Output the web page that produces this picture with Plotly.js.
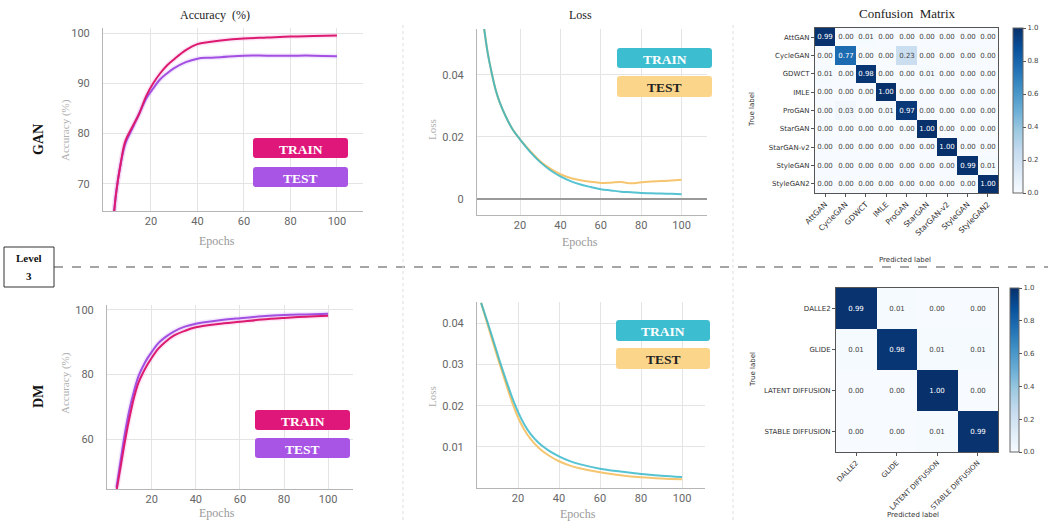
<!DOCTYPE html>
<html><head><meta charset="utf-8">
<script src="https://cdn.plot.ly/plotly-3.0.1.min.js"></script>
<style>html,body{margin:0;padding:0;background:#fff}#chart{width:1048px;height:523px}</style>
</head><body><div id="chart"></div>
<script>
// ---------------- DATA ----------------
const epochTicks = [20, 40, 60, 80, 100];

const ganAccEpochs = [3, 5, 7, 9, 12, 15, 18, 21, 24, 27, 30, 35, 40, 45, 50, 60, 70, 80, 90, 100];
const ganTrainAcc  = [58, 68, 74, 78.5, 81.3, 84, 87.5, 90, 92, 93.6, 94.8, 96.6, 97.8, 98.2, 98.5, 98.9, 99.1, 99.3, 99.4, 99.5];
const ganTestAcc   = [58, 68, 74, 78, 81, 84, 87, 89, 90.8, 92, 93, 94.2, 94.9, 95.1, 95.2, 95.5, 95.5, 95.5, 95.5, 95.4];
const ganAccTicks  = [70, 80, 90, 100];

const ganLossEpochs = [2, 4, 6, 8, 10, 13, 16, 20, 25, 30, 35, 40, 45, 50, 55, 60, 65, 70, 75, 80, 85, 90, 95, 100];
const ganTrainLoss  = [0.056, 0.047, 0.0405, 0.035, 0.031, 0.0265, 0.0228, 0.0192, 0.0152, 0.0119, 0.0093, 0.0073, 0.0058, 0.0047, 0.0039, 0.0032, 0.0028, 0.0024, 0.0022, 0.002, 0.0019, 0.0018, 0.0017, 0.0016];
const ganTestLoss   = [0.056, 0.047, 0.0405, 0.035, 0.031, 0.0265, 0.0228, 0.0192, 0.0155, 0.0122, 0.0098, 0.008, 0.0068, 0.0061, 0.0056, 0.0052, 0.0053, 0.0055, 0.0051, 0.0054, 0.0057, 0.0058, 0.006, 0.0062];
const ganLossTicks  = [0, 0.02, 0.04];
const ganLossTickText = ['0', '0.02', '0.04'];

const dmAccEpochs = [4, 6, 8, 10, 12, 14, 16, 18, 20, 23, 26, 30, 35, 40, 50, 60, 70, 80, 90, 100];
const dmTrainAcc  = [44, 52, 60, 67, 73, 77.5, 80.5, 83, 85.2, 88, 90, 92, 93.5, 94.6, 95.6, 96.3, 97, 97.5, 97.9, 98.2];
const dmTestAcc   = [45, 54, 62.5, 69.5, 75, 79.5, 82.5, 85, 87, 89.7, 91.5, 93.3, 94.8, 95.7, 96.7, 97.4, 98, 98.4, 98.6, 98.8];
const dmAccTicks  = [60, 80, 100];

const dmLossEpochs = [2, 5, 8, 11, 14, 17, 20, 23, 26, 30, 35, 40, 45, 50, 60, 70, 80, 90, 100];
const dmTrainLoss  = [0.045, 0.0405, 0.0358, 0.031, 0.0265, 0.0222, 0.0185, 0.0155, 0.0132, 0.011, 0.0091, 0.0077, 0.0066, 0.0058, 0.0047, 0.004, 0.0034, 0.003, 0.0027];
const dmTestLoss   = [0.045, 0.04, 0.035, 0.0302, 0.0255, 0.021, 0.0172, 0.0142, 0.012, 0.0098, 0.0079, 0.0065, 0.0055, 0.0048, 0.0038, 0.0031, 0.0026, 0.0023, 0.0021];
const dmLossTicks  = [0.01, 0.02, 0.03, 0.04];

const ganClasses = ['AttGAN', 'CycleGAN', 'GDWCT', 'IMLE', 'ProGAN', 'StarGAN', 'StarGAN-v2', 'StyleGAN', 'StyleGAN2'];
const ganMatrix = [
  [0.99, 0.00, 0.01, 0.00, 0.00, 0.00, 0.00, 0.00, 0.00],
  [0.00, 0.77, 0.00, 0.00, 0.23, 0.00, 0.00, 0.00, 0.00],
  [0.01, 0.00, 0.98, 0.00, 0.00, 0.01, 0.00, 0.00, 0.00],
  [0.00, 0.00, 0.00, 1.00, 0.00, 0.00, 0.00, 0.00, 0.00],
  [0.00, 0.03, 0.00, 0.01, 0.97, 0.00, 0.00, 0.00, 0.00],
  [0.00, 0.00, 0.00, 0.00, 0.00, 1.00, 0.00, 0.00, 0.00],
  [0.00, 0.00, 0.00, 0.00, 0.00, 0.00, 1.00, 0.00, 0.00],
  [0.00, 0.00, 0.00, 0.00, 0.00, 0.00, 0.00, 0.99, 0.01],
  [0.00, 0.00, 0.00, 0.00, 0.00, 0.00, 0.00, 0.00, 1.00]
];
const dmClasses = ['DALLE2', 'GLIDE', 'LATENT DIFFUSION', 'STABLE DIFFUSION'];
const dmMatrix = [
  [0.99, 0.01, 0.00, 0.00],
  [0.01, 0.98, 0.01, 0.01],
  [0.00, 0.00, 1.00, 0.00],
  [0.00, 0.00, 0.01, 0.99]
];
const cbTicks = [0, 0.2, 0.4, 0.6, 0.8, 1.0];

// ---------------- STYLE ----------------
const W = 1048, H = 523;
const px = x => x / W;
const py = y => 1 - y / H;
const SERIF = 'Liberation Serif, Times New Roman, serif';
const SANS = 'Roboto, Open Sans, sans-serif';
const MPL = 'DejaVu Sans, sans-serif';
const PINK = '#dc1a6f', PURPLE = '#a24fe2', TEAL = '#2cb4c8', ORANGE = '#f6c56f';
const BLUES = [[0, '#f7fbff'], [0.125, '#deebf7'], [0.25, '#c6dbef'], [0.375, '#9ecae1'], [0.5, '#6baed6'], [0.625, '#4292c6'], [0.75, '#2171b5'], [0.875, '#08519c'], [1, '#08306b']];

function lineAxis(dom, range, ticks, ticktext, isY) {
  const a = {
    domain: dom, range: range, tickmode: 'array', tickvals: ticks,
    showgrid: true, gridcolor: '#e4e4e4', gridwidth: 1,
    showline: true, linecolor: '#b5b5b5', linewidth: 1,
    zeroline: false, ticks: '', fixedrange: true,
    tickfont: {family: SANS, size: 11, color: '#666'},
    ticklabelstandoff: isY ? 10 : 0
  };
  if (ticktext) a.ticktext = ticktext;
  return a;
}

const traces = [];
function accTraces(xa, ya, ep, tr, te) {
  traces.push({x: ep, y: tr, xaxis: xa, yaxis: ya, mode: 'lines', line: {color: 'rgba(240,150,220,0.22)', width: 5, shape: 'spline'}, hoverinfo: 'skip', showlegend: false});
  traces.push({x: ep, y: te, xaxis: xa, yaxis: ya, mode: 'lines', line: {color: 'rgba(205,160,245,0.22)', width: 5, shape: 'spline'}, hoverinfo: 'skip', showlegend: false});
  traces.push({x: ep, y: te, xaxis: xa, yaxis: ya, mode: 'lines', name: 'TEST', line: {color: PURPLE, width: 2, shape: 'spline'}, showlegend: false});
  traces.push({x: ep, y: tr, xaxis: xa, yaxis: ya, mode: 'lines', name: 'TRAIN', line: {color: PINK, width: 2, shape: 'spline'}, showlegend: false});
}
function lossTraces(xa, ya, ep, tr, te) {
  traces.push({x: ep, y: te, xaxis: xa, yaxis: ya, mode: 'lines', name: 'TEST', line: {color: ORANGE, width: 2, shape: 'spline'}, showlegend: false});
  traces.push({x: ep, y: tr, xaxis: xa, yaxis: ya, mode: 'lines', name: 'TRAIN', line: {color: TEAL, width: 2, shape: 'spline'}, opacity: 0.8, showlegend: false});
}
accTraces('x', 'y', ganAccEpochs, ganTrainAcc, ganTestAcc);
lossTraces('x2', 'y2', ganLossEpochs, ganTrainLoss, ganTestLoss);
accTraces('x4', 'y4', dmAccEpochs, dmTrainAcc, dmTestAcc);
lossTraces('x5', 'y5', dmLossEpochs, dmTrainLoss, dmTestLoss);

function cmTrace(xa, ya, classes, z, cb) {
  traces.push({
    type: 'heatmap', x: classes, y: classes, z: z, xaxis: xa, yaxis: ya,
    colorscale: BLUES, zmin: 0, zmax: 1, xgap: 0, ygap: 0,
    texttemplate: '%{z:.2f}', textfont: {family: MPL, size: 7},
    hoverinfo: 'skip',
    colorbar: Object.assign({
      thicknessmode: 'pixels', lenmode: 'pixels', xanchor: 'left', yanchor: 'top',
      outlinewidth: 1, outlinecolor: '#666', ticks: 'outside', ticklen: 3, tickcolor: '#555',
      tickmode: 'array', tickvals: cbTicks, ticktext: cbTicks.map(v => v.toFixed(1)),
      tickfont: {family: MPL, size: 7, color: '#444'}, xpad: 0, ypad: 0
    }, cb)
  });
}
cmTrace('x3', 'y3', ganClasses, ganMatrix, {x: px(1013), y: py(28), len: 165, thickness: 10});
cmTrace('x6', 'y6', dmClasses, dmMatrix, {x: px(1010), y: py(288), len: 164, thickness: 9});

function cmAxes(xd, yd, xfs) {
  const common = {showline: true, mirror: true, linecolor: '#555', linewidth: 1, ticks: 'outside', ticklen: 3, tickcolor: '#555',
    showgrid: false, zeroline: false, fixedrange: true};
  return [Object.assign({domain: xd, tickangle: -45, tickfont: {family: MPL, size: xfs, color: '#333'}}, common),
          Object.assign({domain: yd, autorange: 'reversed', tickfont: {family: MPL, size: 7, color: '#333'}}, common)];
}
const [x3, y3] = cmAxes([px(815), px(998)], [py(193), py(28)], 7.6);
const [x6, y6] = cmAxes([px(836), px(998)], [py(452), py(288)], 7);

const layout = {
  width: W, height: H, margin: {l: 0, r: 0, t: 0, b: 0},
  paper_bgcolor: '#fff', plot_bgcolor: '#fff', showlegend: false,
  xaxis: lineAxis([px(103), px(363)], [-0.6, 111.2], epochTicks, null, false),
  yaxis: lineAxis([py(211), py(28)], [64.6, 101], ganAccTicks, null, true),
  xaxis2: lineAxis([px(477), px(707)], [-1.3, 112.6], epochTicks, null, false),
  yaxis2: Object.assign(lineAxis([py(215), py(29)], [-0.0051, 0.0547], ganLossTicks, ganLossTickText, true), {zeroline: true, zerolinecolor: '#9a9a9a', zerolinewidth: 1.3}),
  xaxis3: Object.assign(x3, {anchor: 'y3'}),
  yaxis3: Object.assign(y3, {anchor: 'x3'}),
  xaxis4: lineAxis([px(107), px(353)], [-0.3, 111.3], epochTicks, null, false),
  yaxis4: lineAxis([py(489), py(305)], [44.6, 101.5], dmAccTicks, null, true),
  xaxis5: lineAxis([px(477), px(705)], [0, 111.2], epochTicks, null, false),
  yaxis5: lineAxis([py(488), py(302)], [0, 0.0452], dmLossTicks, null, true),
  xaxis6: Object.assign(x6, {anchor: 'y6'}),
  yaxis6: Object.assign(y6, {anchor: 'x6'}),
  shapes: [], annotations: []
};
layout.xaxis.anchor = 'y'; layout.yaxis.anchor = 'x';
layout.xaxis2.anchor = 'y2'; layout.yaxis2.anchor = 'x2';
layout.xaxis4.anchor = 'y4'; layout.yaxis4.anchor = 'x4';
layout.xaxis5.anchor = 'y5'; layout.yaxis5.anchor = 'x5';

function ann(text, x, y, opts) {
  layout.annotations.push(Object.assign({text: text, x: px(x), y: py(y), xref: 'paper', yref: 'paper', showarrow: false, xanchor: 'center', yanchor: 'middle'}, opts));
}
function roundRect(x0, y0, x1, y1, r, color) {
  const P = (x, y) => px(x).toFixed(5) + ',' + py(y).toFixed(5);
  const d = 'M' + P(x0 + r, y0) + ' L' + P(x1 - r, y0) + ' Q' + P(x1, y0) + ' ' + P(x1, y0 + r) +
    ' L' + P(x1, y1 - r) + ' Q' + P(x1, y1) + ' ' + P(x1 - r, y1) + ' L' + P(x0 + r, y1) +
    ' Q' + P(x0, y1) + ' ' + P(x0, y1 - r) + ' L' + P(x0, y0 + r) + ' Q' + P(x0, y0) + ' ' + P(x0 + r, y0) + ' Z';
  layout.shapes.push({type: 'path', xref: 'paper', yref: 'paper', path: d, fillcolor: color, line: {width: 0}, layer: 'above'});
}
function legendBox(x0, y0, x1, y1, color, label, tcolor) {
  roundRect(x0, y0, x1, y1, 3, color);
  ann(label, (x0 + x1) / 2, (y0 + y1) / 2 + 1, {font: {family: SERIF, size: 13.5, color: tcolor, weight: 'bold'}});
}

// Titles
ann('Accuracy &nbsp;(%)', 215, 15, {font: {family: SERIF, size: 12, color: '#222'}});
ann('Loss', 580, 15, {font: {family: SERIF, size: 12, color: '#222'}});
ann('Confusion &nbsp;Matrix', 907, 14, {font: {family: SERIF, size: 13, color: '#222'}});
// Row labels
ann('GAN', 38, 140, {textangle: -90, font: {family: SERIF, size: 14, color: '#111', weight: 'bold'}});
ann('DM', 38, 397, {textangle: -90, font: {family: SERIF, size: 14, color: '#111', weight: 'bold'}});
// Axis titles
ann('Accuracy (%)', 65, 130, {textangle: -90, font: {family: SERIF, size: 11, color: '#b0b0b0'}});
ann('Accuracy (%)', 65, 383, {textangle: -90, font: {family: SERIF, size: 11, color: '#b0b0b0'}});
ann('Loss', 432, 130, {textangle: -90, font: {family: SERIF, size: 11, color: '#b0b0b0'}});
ann('Loss', 432, 397, {textangle: -90, font: {family: SERIF, size: 11, color: '#b0b0b0'}});
ann('Epochs', 217, 241, {font: {family: SERIF, size: 12, color: '#999'}});
ann('Epochs', 580, 242, {font: {family: SERIF, size: 12, color: '#999'}});
ann('Epochs', 217, 513, {font: {family: SERIF, size: 12, color: '#999'}});
ann('Epochs', 578, 514, {font: {family: SERIF, size: 12, color: '#999'}});
ann('True label', 752, 110, {textangle: -90, font: {family: MPL, size: 7, color: '#333'}});
ann('True label', 753, 370, {textangle: -90, font: {family: MPL, size: 7, color: '#333'}});
ann('Predicted label', 905, 260, {font: {family: MPL, size: 7, color: '#333'}});
ann('Predicted label', 913, 515, {font: {family: MPL, size: 7, color: '#333'}});

// Legend boxes
legendBox(253, 138, 348, 158, '#e0177a', 'TRAIN', '#fff');
legendBox(253, 167, 348, 187, '#a855e6', 'TEST', '#fff');
legendBox(255, 410, 350, 430, '#e0177a', 'TRAIN', '#fff');
legendBox(255, 438, 350, 458, '#a855e6', 'TEST', '#fff');
legendBox(617, 48, 712, 68, '#3dbdd0', 'TRAIN', '#fff');
legendBox(617, 76, 712, 97, '#fbd58a', 'TEST', '#222');
legendBox(616, 320, 710, 341, '#3dbdd0', 'TRAIN', '#fff');
legendBox(616, 348, 710, 369, '#fbd58a', 'TEST', '#222');

// Dividers
layout.shapes.push({type: 'line', xref: 'paper', yref: 'paper', x0: px(54), x1: 1, y0: py(267), y1: py(267), line: {color: '#888', width: 1.3, dash: 'dash'}});
layout.shapes.push({type: 'line', xref: 'paper', yref: 'paper', x0: px(403), x1: px(403), y0: py(25), y1: py(520), line: {color: '#ddd', width: 1, dash: 'dot'}});
layout.shapes.push({type: 'line', xref: 'paper', yref: 'paper', x0: px(733), x1: px(733), y0: py(25), y1: py(520), line: {color: '#ddd', width: 1, dash: 'dot'}});
// Level box
layout.shapes.push({type: 'rect', xref: 'paper', yref: 'paper', x0: px(4), x1: px(54), y0: py(287), y1: py(247), fillcolor: '#fff', line: {color: '#333', width: 1}});
ann('Level', 29, 258, {font: {family: SERIF, size: 11, color: '#111', weight: 'bold'}});
ann('3', 29, 276, {font: {family: SERIF, size: 11, color: '#111', weight: 'bold'}});

Plotly.newPlot('chart', traces, layout, {staticPlot: true, displayModeBar: false});
</script></body></html>
